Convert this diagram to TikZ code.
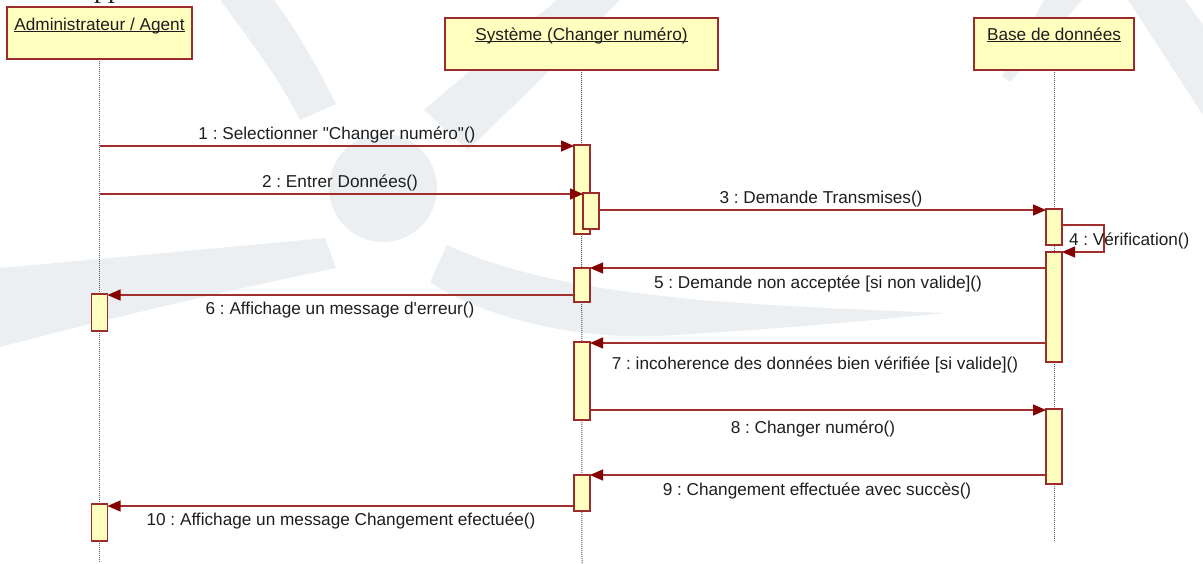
\documentclass[tikz,border=0pt]{standalone}
\usepackage{fontspec}
\setmainfont{Liberation Sans}
\newfontfamily\headserif{Liberation Serif}
\usetikzlibrary{arrows.meta}
\frenchspacing

\definecolor{boxfill}{HTML}{FFFFC0}
\definecolor{boxline}{HTML}{9E2B2B}
\definecolor{msgline}{HTML}{A32E2E}
\definecolor{msghead}{HTML}{850000}
\definecolor{lifegray}{HTML}{555555}
\definecolor{txt}{HTML}{1E1E1E}
\definecolor{wmark}{HTML}{ECEFF2}

% underlined object name, rule just below the baseline
\newcommand\ulname[1]{\setbox0\hbox{#1}\rlap{\rule[-2.3pt]{\wd0}{1.1pt}}\box0}

\begin{document}
\begin{tikzpicture}[x=1pt,y=-1pt,
  every node/.style={inner sep=0pt, outer sep=0pt},
  actor/.style={draw=boxline, fill=boxfill, line width=1.5pt, minimum height=52pt},
  actlabel/.style={font=\fontsize{17.2}{20}\selectfont, text=txt, anchor=base},
  activation/.style={draw=boxline, fill=boxfill, line width=1.3pt, minimum width=16pt},
  lifeline/.style={draw=lifegray, line width=1pt, dash pattern=on 1pt off 1pt},
  msg/.style={draw=msgline, line width=1.3pt, -{Triangle[length=13pt,width=11pt,color=msghead]}},
  msglabel/.style={font=\fontsize{17.2}{20}\selectfont, text=txt, anchor=base},
]
\useasboundingbox (0,0) rectangle (1203,563);
\begin{scope}
\clip (0,0) rectangle (1203,563);

% faint logo in the background
\fill[wmark] (383,188) circle[radius=54];
\fill[wmark] (220,0) .. controls (250,40) and (280,80) .. (300,120)
  -- (336,104) .. controls (318,68) and (298,32) .. (274,0) -- cycle;
\fill[wmark] (424,110) .. controls (470,70) and (515,35) .. (557,0)
  -- (620,0) .. controls (570,50) and (520,100) .. (468,150) -- cycle;
\fill[wmark] (0,268) .. controls (110,258) and (220,248) .. (325,238)
  -- (336,268) .. controls (230,290) and (110,318) .. (0,347) -- cycle;
\fill[wmark] (447,245) .. controls (520,278) and (600,290) .. (700,300)
  .. controls (800,308) and (900,311) .. (945,313)
  .. controls (860,322) and (760,330) .. (660,336)
  .. controls (560,340) and (470,310) .. (430,282) -- cycle;
\fill[wmark] (1044,0) -- (1082,0) -- (1010,82) -- (1002,76) -- cycle;
\fill[wmark] (1128,0) -- (1185,0) -- (1203,25) -- (1203,115) -- cycle;

% heading above the diagram, only its descenders fall inside the page
\node[anchor=base west, font=\headserif\fontsize{28}{30}\selectfont, text=txt] (head) at (94,-3) {pp};

% objects
\node[actor, minimum width=185pt] (admin) at (99.5,33) {};
\node[actor, minimum width=273pt] (sys) at (581.5,44) {};
\node[actor, minimum width=160pt] (base) at (1054,44) {};
\node[actlabel] (adminlbl) at (99.5,30) {\ulname{Administrateur / Agent}};
\node[actlabel] (syslbl) at (581.5,40) {\ulname{Système (Changer numéro)}};
\node[actlabel] (baselbl) at (1054,40) {\ulname{Base de données}};

% lifelines
\coordinate (adminEnd) at (99.5,563);
\coordinate (sysEnd) at (582,563);
\coordinate (baseEnd) at (1054,541);
\draw[lifeline] (admin.south) -- (adminEnd);
\draw[lifeline] (sys.south |- 0,70) -- (sysEnd);
\draw[lifeline] (base.south) -- (baseEnd);

% activation bars
\node[activation, minimum height=89pt] (sysA1) at (582,189.5) {};
\node[activation, minimum height=36pt] (sysA1b) at (591,211) {};
\node[activation, minimum height=36pt] (baseA1) at (1054,227) {};
\node[activation, minimum height=110pt] (baseA2) at (1054,307) {};
\node[activation, minimum height=34pt] (sysA2) at (582,285) {};
\node[activation, minimum height=37pt] (adminA1) at (99.5,312.5) {};
\node[activation, minimum height=78pt] (sysA3) at (582,381) {};
\node[activation, minimum height=75pt] (baseA3) at (1054,446.5) {};
\node[activation, minimum height=36pt] (sysA4) at (582,493) {};
\node[activation, minimum height=37pt] (adminA2) at (99.5,522.5) {};

% messages
\draw[msg] (admin.south |- 0,146) -- (sysA1.west |- 0,146);
\draw[msg] (admin.south |- 0,194) -- (sysA1b.west |- 0,194);
\draw[msg] (sysA1b.east |- 0,210) -- (baseA1.west |- 0,210);
\coordinate (loopA) at (1104,225);
\coordinate (loopB) at (1104,252);
\draw[msg] (baseA1.east |- loopA) -- (loopA) -- (loopB) -- (baseA2.north east);
\draw[msg] (baseA2.west |- 0,268) -- (sysA2.east |- 0,268);
\draw[msg] (sysA2.west |- 0,295) -- (adminA1.east |- 0,295);
\draw[msg] (baseA2.west |- 0,343) -- (sysA3.east |- 0,343);
\draw[msg] (sysA3.east |- 0,410) -- (baseA3.west |- 0,410);
\draw[msg] (baseA3.west |- 0,475) -- (sysA4.east |- 0,475);
\draw[msg] (sysA4.west |- 0,506) -- (adminA2.east |- 0,506);

% message labels
\node[msglabel] (m1) at (337,139) {1 : Selectionner \textquotedbl Changer numéro\textquotedbl()};
\node[msglabel] (m2) at (340,187) {2 : Entrer Données()};
\node[msglabel] (m3) at (821,203) {3 : Demande Transmises()};
\node[msglabel, anchor=base west] (m4) at (1069,245) {4 : Vérification()};
\node[msglabel] (m5) at (818,288) {5 : Demande non acceptée [si non valide]()};
\node[msglabel] (m6) at (340,314) {6 : Affichage un message d\textquotesingle erreur()};
\node[msglabel] (m7) at (815,369) {7 : incoherence des données bien vérifiée [si valide]()};
\node[msglabel] (m8) at (813,433) {8 : Changer numéro()};
\node[msglabel] (m9) at (817,495) {9 : Changement effectuée avec succès()};
\node[msglabel] (m10) at (341,525) {10 : Affichage un message Changement efectuée()};
\end{scope}
\end{tikzpicture}
\end{document}
